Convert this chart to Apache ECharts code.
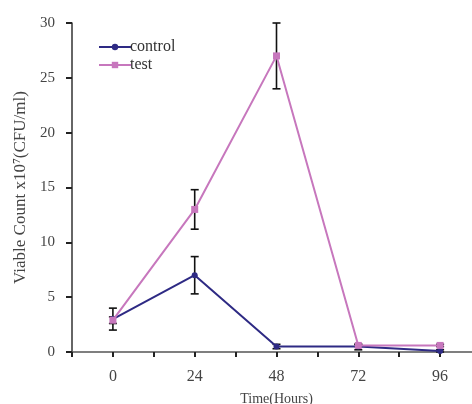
<!DOCTYPE html>
<html><head><meta charset="utf-8">
<script src="https://cdn.jsdelivr.net/npm/echarts@6/dist/echarts.min.js"></script>
<style>html,body{margin:0;padding:0;background:#fff}#c{width:472px;height:404px}</style>
</head><body><div id="c"></div>
<script>
var hours = [0, 24, 48, 72, 96];
var controlVals = [3, 7, 0.5, 0.5, 0.1];
var controlLow = [2, 5.3, 0.3, 0.2, 0];
var controlHigh = [4, 8.7, 0.7, 0.7, 0.2];
var testVals = [2.9, 13, 27, 0.6, 0.6];
var testLow = [2.6, 11.2, 24, 0.5, 0.5];
var testHigh = [3.2, 14.8, 30, 0.7, 0.7];
var xTicks = [0, 24, 48, 72, 96];

var font = 'Liberation Serif';
function pairs(v){ return hours.map(function(h,i){return [h, v[i]];}); }
function errs(lo, hi){ return hours.map(function(h,i){return [h, lo[i], hi[i]];}); }
function errRender(params, api){
  var x = api.value(0);
  var p1 = api.coord([x, api.value(1)]);
  var p2 = api.coord([x, api.value(2)]);
  var w = 4;
  var st = {stroke:'#111', lineWidth:1.6};
  return {type:'group', children:[
    {type:'line', shape:{x1:p1[0],y1:p1[1],x2:p2[0],y2:p2[1]}, style:st},
    {type:'line', shape:{x1:p1[0]-w,y1:p1[1],x2:p1[0]+w,y2:p1[1]}, style:st},
    {type:'line', shape:{x1:p2[0]-w,y1:p2[1],x2:p2[0]+w,y2:p2[1]}, style:st}
  ]};
}
var chart = echarts.init(document.getElementById('c'));
chart.setOption({
  animation:false,
  backgroundColor:'#fff',
  grid:{left:72, top:23, width:409, height:329, containLabel:false, outerBoundsMode:'none'},
  legend:{
    left:93, top:34, orient:'vertical', itemGap:2, itemWidth:32, itemHeight:8,
    textStyle:{fontFamily:font, fontSize:16, color:'#333', padding:[0,0,0,-6]},
    data:['control','test']
  },
  xAxis:{
    type:'value', min:-12, max:108, interval:12,
    name:'Time(Hours)', nameLocation:'middle', nameGap:40,
    nameTextStyle:{fontFamily:font, fontSize:14, color:'#444'},
    axisLine:{show:true, onZero:false, lineStyle:{color:'#555', width:1.5}},
    axisTick:{show:true, inside:false, length:5, lineStyle:{color:'#222', width:2}},
    splitLine:{show:false},
    axisLabel:{fontFamily:font, fontSize:16, color:'#444', margin:17,
      formatter:function(v){ return xTicks.indexOf(v) >= 0 ? String(v) : ''; }}
  },
  yAxis:{
    type:'value', min:0, max:30, interval:5,
    name:'Viable Count x10\u2077(CFU/ml)', nameLocation:'middle', nameGap:42,
    nameTextStyle:{fontFamily:font, fontSize:17, color:'#444'},
    axisLine:{show:true, onZero:false, lineStyle:{color:'#333', width:1.5}},
    axisTick:{show:true, length:6, lineStyle:{color:'#222', width:2}},
    splitLine:{show:false},
    axisLabel:{fontFamily:font, fontSize:15, color:'#444', margin:17}
  },
  series:[
    {name:'control', type:'line', data:pairs(controlVals), symbol:'circle', symbolSize:6,
      itemStyle:{color:'#2e2a84'}, lineStyle:{color:'#2e2a84', width:2}, z:3},
    {name:'test', type:'line', data:pairs(testVals), symbol:'rect', symbolSize:7,
      itemStyle:{color:'#c777bd'}, lineStyle:{color:'#c777bd', width:2}, z:4},
    {type:'custom', renderItem:errRender, data:errs(controlLow, controlHigh), z:2, silent:true},
    {type:'custom', renderItem:errRender, data:errs(testLow, testHigh), z:2, silent:true}
  ]
});
</script></body></html>
